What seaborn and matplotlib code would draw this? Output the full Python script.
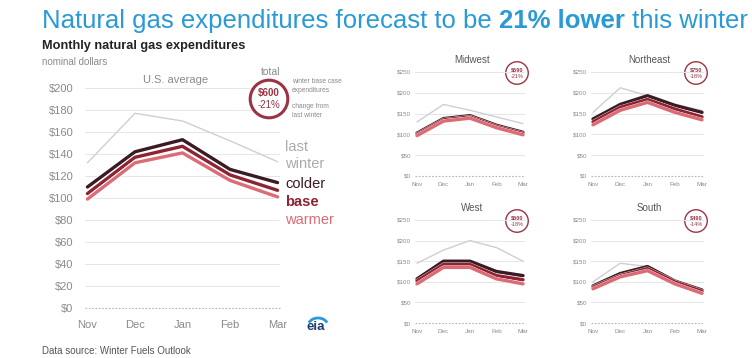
import numpy as np
import pandas as pd
import matplotlib
matplotlib.use("Agg")
import matplotlib.pyplot as plt
import matplotlib.patheffects as pe
from matplotlib.patches import Arc
import seaborn as sns

sns.set_style("white")
plt.rcParams["font.family"] = ["Liberation Sans", "DejaVu Sans"]

months = ["Nov", "Dec", "Jan", "Feb", "Mar"]
scenarios = ["last winter", "colder", "base", "warmer"]

# monthly expenditures, nominal dollars
us_last = [132, 177, 170, 152, 133]
us_colder = [110, 142, 153, 126, 114]
us_base = [104, 137, 147, 121, 107]
us_warmer = [99, 132, 141, 116, 101]

mw_last = [130, 172, 158, 142, 126]
mw_colder = [103, 138, 145, 122, 105]
mw_base = [100, 135, 142, 119, 102]
mw_warmer = [97, 132, 139, 116, 99]

ne_last = [153, 212, 193, 172, 158]
ne_colder = [137, 172, 193, 170, 153]
ne_base = [130, 165, 184, 161, 142]
ne_warmer = [123, 158, 177, 153, 135]

we_last = [145, 177, 200, 183, 150]
we_colder = [107, 150, 150, 125, 115]
we_base = [102, 142, 142, 115, 105]
we_warmer = [95, 135, 135, 107, 95]

so_last = [100, 145, 137, 102, 77]
so_colder = [90, 120, 137, 102, 80]
so_base = [87, 115, 132, 100, 77]
so_warmer = [83, 112, 127, 95, 72]

us_total = "$600"
us_change = "-21%"
regions = ["Midwest", "Northeast", "West", "South"]
region_totals = ["$590", "$750", "$500", "$490"]
region_changes = ["-21%", "-18%", "-18%", "-14%"]

main_ticks = list(range(0, 201, 20))
region_ticks = list(range(0, 251, 50))

palette = {
    "last winter": "#cfcfcf",
    "colder": "#3b1b22",
    "base": "#8c2434",
    "warmer": "#dd6b74",
}
TITLE_BLUE = "#2a9ad6"
GRAY = "#8a8a8a"
CIRCLE_RED = "#9a3444"


def frame(series):
    rows = []
    for name, vals in zip(scenarios, series):
        for m, v in zip(months, vals):
            rows.append({"month": m, "scenario": name, "value": v})
    df = pd.DataFrame(rows)
    df["x"] = df["month"].map({m: i for i, m in enumerate(months)})
    return df


W, H = 752, 358
fig = plt.figure(figsize=(W / 100, H / 100), dpi=100)


def box(x0, y_top, x1, y_bot):
    return [x0 / W, 1 - y_bot / H, (x1 - x0) / W, (y_bot - y_top) / H]


def draw_panel(ax, series, ticks, lw, stroke, fs, pad):
    df = frame(series)
    sns.lineplot(data=df, x="x", y="value", hue="scenario",
                 hue_order=scenarios, palette=palette, ax=ax,
                 legend=False, sort=False)
    for line, name in zip(ax.lines, scenarios):
        if name == "last winter":
            line.set_linewidth(1.0)
            line.set_zorder(2)
        else:
            line.set_linewidth(lw)
            line.set_zorder(3)
            if stroke > 0:
                line.set_path_effects([pe.Stroke(linewidth=lw + stroke, foreground="white"),
                                       pe.Normal()])
        line.set_solid_joinstyle("round")
        line.set_clip_on(False)
    ax.set_xlim(-0.06, 4.06)
    ax.set_ylim(0, ticks[-1])
    ax.set_yticks(ticks)
    ax.set_yticklabels([f"${t}" for t in ticks], color=GRAY, fontsize=fs)
    ax.set_xticks(range(len(months)))
    ax.set_xticklabels(months, color=GRAY, fontsize=fs)
    ax.tick_params(axis="y", length=0, pad=pad)
    ax.tick_params(axis="x", length=2.5, width=0.6, color="#b0b0b0",
                   direction="in", pad=pad + 1)
    for t in ticks[1:]:
        ax.axhline(t, color="#e6e6e6", lw=0.7, zorder=0)
    ax.axhline(0, color="#b5b5b5", lw=0.8, ls=(0, (1.5, 1.5)), zorder=1, clip_on=False)
    sns.despine(ax=ax, left=True, bottom=True)
    ax.set_xlabel("")
    ax.set_ylabel("")
    ax.set_facecolor("none")


# U.S. average panel
ax_us = fig.add_axes(box(84.6, 88, 280.4, 308))
draw_panel(ax_us, [us_last, us_colder, us_base, us_warmer], main_ticks,
           lw=2.4, stroke=1.3, fs=8, pad=8)

overlay = fig.add_axes([0, 0, 1, 1])
overlay.axis("off")
overlay.set_xlim(0, W)
overlay.set_ylim(H, 0)

overlay.text(176, 80, "U.S. average", ha="center", va="center",
             fontsize=8, color=GRAY)

# scenario labels at the right of the U.S. panel
label_specs = [
    ("last", 147, "#ababab", "normal"),
    ("winter", 164, "#ababab", "normal"),
    ("colder", 184, palette["colder"], "normal"),
    ("base", 202, palette["base"], "bold"),
    ("warmer", 220, palette["warmer"], "normal"),
]
for txt, yp, col, wt in label_specs:
    overlay.text(285, yp, txt, ha="left", va="center",
                 fontsize=10.5, color=col, fontweight=wt)

# total badge
overlay.text(271, 72, "total", ha="center", va="center", fontsize=7.5, color=GRAY)
overlay.text(269, 99, " \n ", ha="center", va="center", fontsize=8.5,
             bbox=dict(boxstyle="circle,pad=0.5", fc="white", ec=CIRCLE_RED, lw=2.2))
overlay.text(269, 93, us_total, ha="center", va="center",
             fontsize=7, color=CIRCLE_RED, fontweight="bold")
overlay.text(269, 105, us_change, ha="center", va="center",
             fontsize=7, color=CIRCLE_RED)
overlay.text(292, 86, "winter base case\nexpenditures", ha="left",
             va="center", fontsize=4.8, color=GRAY, linespacing=1.4)
overlay.text(292, 111, "change from\nlast winter", ha="left",
             va="center", fontsize=4.8, color=GRAY, linespacing=1.4)

# regional panels
region_series = [
    [mw_last, mw_colder, mw_base, mw_warmer],
    [ne_last, ne_colder, ne_base, ne_warmer],
    [we_last, we_colder, we_base, we_warmer],
    [so_last, so_colder, so_base, so_warmer],
]
region_boxes = [
    (417, 72, 523, 176),
    (593, 72, 702, 176),
    (417, 220, 523, 323),
    (593, 220, 702, 323),
]
for name, series, (nx, top, mx, bot), tot, chg in zip(
        regions, region_series, region_boxes, region_totals, region_changes):
    unit = (mx - nx) / 4
    ax = fig.add_axes(box(nx - 0.06 * unit, top, mx + 0.06 * unit, bot))
    draw_panel(ax, series, region_ticks, lw=2.4, stroke=0.4, fs=4.5, pad=3)
    cx = (nx + mx) / 2 + 2
    overlay.text(cx, top - 12, name, ha="center", va="center",
                 fontsize=7, color="#555555")
    bx = mx - 6
    by = top + 1
    overlay.text(bx, by, " \n ", ha="center", va="center", fontsize=6,
                 bbox=dict(boxstyle="circle,pad=0.45", fc="white", ec=CIRCLE_RED, lw=1.0))
    overlay.text(bx, by - 3.5, tot, ha="center", va="center",
                 fontsize=4, color=CIRCLE_RED, fontweight="bold")
    overlay.text(bx, by + 3.5, chg, ha="center", va="center",
                 fontsize=4, color=CIRCLE_RED)

# headline
t1 = overlay.text(42, 21, "Natural gas expenditures forecast to be ", ha="left",
                  va="center", fontsize=18.5, color=TITLE_BLUE)
t2 = overlay.annotate("21% lower", xy=(1, 0), xycoords=t1, ha="left", va="bottom",
                      fontsize=18.5, color=TITLE_BLUE, fontweight="bold")
overlay.annotate(" this winter", xy=(1, 0), xycoords=t2, ha="left", va="bottom",
                 fontsize=18.5, color=TITLE_BLUE)

overlay.text(42, 46, "Monthly natural gas expenditures", ha="left", va="center",
             fontsize=9.2, color="#222222", fontweight="bold")
overlay.text(42, 62, "nominal dollars", ha="left", va="center",
             fontsize=7, color=GRAY)
overlay.text(42, 351, "Data source: Winter Fuels Outlook", ha="left",
             va="center", fontsize=7, color="#555555")

# eia mark
overlay.text(316, 327, "eia", ha="center", va="center", fontsize=9.5,
             fontweight="bold", color="#1d3f6e")
overlay.add_patch(Arc((318, 326), 20, 16, theta1=200, theta2=340,
                      color="#2a9ad6", lw=2))

fig.savefig("out.png", dpi=100, facecolor="white")
